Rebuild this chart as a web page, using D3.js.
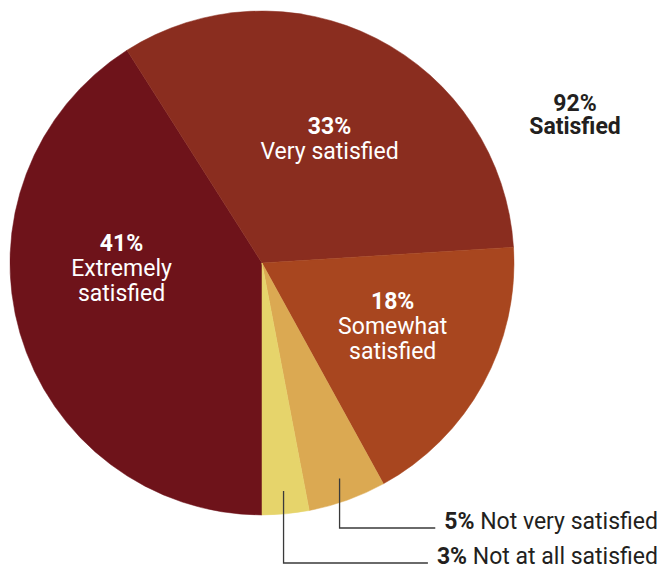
<!DOCTYPE html>
<html>
<head>
<meta charset="utf-8">
<script src="https://cdn.jsdelivr.net/npm/d3@7"></script>
<style>
  body { margin: 0; background: #fff; }
  text { font-family: Roboto, "Liberation Sans", sans-serif; }
</style>
</head>
<body>
<div id="chart"></div>
<script>
var categories = ['Extremely satisfied', 'Very satisfied', 'Somewhat satisfied', 'Not very satisfied', 'Not at all satisfied'];
var values = [41, 33, 18, 5, 3];
var label_lines = [['Extremely', 'satisfied'], ['Very satisfied'], ['Somewhat', 'satisfied'], [], []];
var colors = ['#6e131a', '#8a2d1f', '#a8461f', '#dba952', '#e6d46b'];
var total_label = ['92%', 'Satisfied'];

var width = 662;
var height = 570;
var cx = 262, cy = 263;
var radius = 252;

var data = categories.map(function(c, i){
    return { name: c, value: values[i], lines: label_lines[i], color: colors[i] };
});

var svg = d3.select('#chart')
    .append('svg')
    .attr('width', width)
    .attr('height', height);

var g = svg.append('g')
    .attr('transform', 'translate(' + cx + ',' + cy + ')');

// pie starts at 6 o'clock and runs clockwise
var pie = d3.pie()
    .sort(null)
    .value(function(d){ return d.value; })
    .startAngle(Math.PI)
    .endAngle(Math.PI * 3);

var arc = d3.arc().innerRadius(0).outerRadius(radius);
var label_arc = d3.arc().innerRadius(140).outerRadius(140);

var arcs = pie(data);

g.selectAll('path')
    .data(arcs)
    .enter()
    .append('path')
    .attr('d', arc)
    .attr('fill', function(d){ return d.data.color; })
    .attr('stroke', function(d){ return d.data.color; })
    .attr('stroke-width', 0.5);

// inside labels, nudged from the centroid
var nudges = [[-6, -51], [4, -4], [8, -21]];
arcs.slice(0, 3).forEach(function(d, i){
    var c = label_arc.centroid(d);
    var t = g.append('text')
        .attr('text-anchor', 'middle')
        .attr('fill', '#fff')
        .attr('font-size', 23);
    t.append('tspan')
        .attr('x', c[0] + nudges[i][0])
        .attr('y', c[1] + nudges[i][1])
        .attr('font-weight', 'bold')
        .text(d.data.value + '%');
    d.data.lines.forEach(function(line, j){
        t.append('tspan')
            .attr('x', c[0] + nudges[i][0])
            .attr('y', c[1] + nudges[i][1] + 25 * (j + 1))
            .text(line);
    });
});

// small slices get leader lines to the right
var leader_r = 229;
var leader_y = [265, 300];   // relative to center
var text_right = 658 - cx;
arcs.slice(3).forEach(function(d, i){
    var mid = (d.startAngle + d.endAngle) / 2;
    var x0 = Math.sin(mid) * leader_r;
    var y0 = -Math.cos(mid) * leader_r;
    var y1 = leader_y[i];
    var t = g.append('text')
        .attr('x', text_right)
        .attr('y', y1 + 1)
        .attr('text-anchor', 'end')
        .attr('fill', '#231f20')
        .attr('font-size', 23);
    t.append('tspan').attr('font-weight', 'bold').text(d.data.value + '%');
    t.append('tspan').text(' ' + d.data.name);
    var tw = t.node().getComputedTextLength();
    var x1 = text_right - tw - 9;
    g.append('path')
        .attr('d', 'M' + x0 + ',' + y0 + 'V' + y1 + 'H' + x1)
        .attr('fill', 'none')
        .attr('stroke', '#3a3a3a')
        .attr('stroke-width', 1.3);
});

// overall satisfied total
var tot = svg.append('text')
    .attr('text-anchor', 'middle')
    .attr('fill', '#231f20')
    .attr('font-size', 23)
    .attr('font-weight', 'bold');
total_label.forEach(function(line, i){
    tot.append('tspan')
        .attr('x', 575)
        .attr('y', 111 + 23 * i)
        .text(line);
});
</script>
</body>
</html>
